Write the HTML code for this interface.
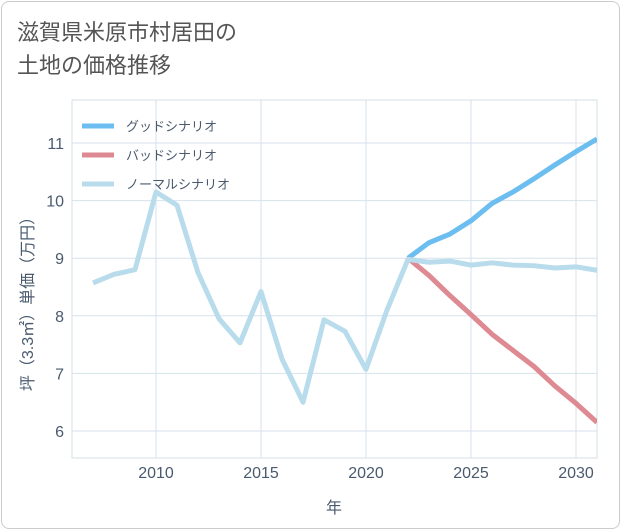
<!DOCTYPE html>
<html><head><meta charset="utf-8"><style>
body{margin:0;background:#fff;font-family:"Liberation Sans","Noto Sans CJK JP",sans-serif}
#card{position:absolute;left:1px;top:1px;width:617px;height:526px;border:1px solid #ccc;border-radius:8px;background:#fff}
#title{position:absolute;left:17px;top:16px;font-size:22px;line-height:33px;color:#555;font-family:"Liberation Sans","Noto Sans CJK JP",sans-serif}
</style></head><body>
<div id="card"></div>
<div id="title">滋賀県米原市村居田の<br>土地の価格推移</div>
<svg id="chart" width="621" height="530" style="position:absolute;left:0;top:0"></svg>
<script>
const years=[2007,2008,2009,2010,2011,2012,2013,2014,2015,2016,2017,2018,2019,2020,2021,2022,2023,2024,2025,2026,2027,2028,2029,2030,2031];
const normal=[8.57,8.72,8.8,10.15,9.92,8.75,7.95,7.53,8.42,7.25,6.5,7.93,7.73,7.07,8.1,8.98,8.93,8.95,8.88,8.92,8.88,8.87,8.83,8.85,8.79];
const fYears=[2022,2023,2024,2025,2026,2027,2028,2029,2030,2031];
const good=[9.0,9.27,9.42,9.65,9.95,10.15,10.38,10.62,10.85,11.07];
const bad=[9.0,8.7,8.35,8.02,7.68,7.4,7.12,6.78,6.48,6.15];
const xTicks=[2010,2015,2020,2025,2030];
const yTicks=[6,7,8,9,10,11];
const NS="http://www.w3.org/2000/svg";
const svg=document.getElementById('chart');
const L=72,R=597,T=100,B=458;
const x=v=>L+(v-2006)*(R-L)/25;
const y=v=>431-(v-6)*57.6;
function mk(t,a,p){const e=document.createElementNS(NS,t);for(const k in a)e.setAttribute(k,a[k]);(p||svg).appendChild(e);return e;}
mk('rect',{x:L,y:T,width:R-L,height:B-T,fill:'none',stroke:'#d6dfe6'});
xTicks.forEach(t=>{
const g=mk('line',{x1:x(t),x2:x(t),y1:T,y2:B,stroke:'#d6e2ec'});


const tx=mk('text',{x:x(t),y:478,'text-anchor':'middle','font-size':16,fill:'#4a5a6e'});tx.textContent=t;


});
yTicks.forEach(t=>{
const g=mk('line',{x1:L,x2:R,y1:y(t),y2:y(t),stroke:'#d6e2ec'});


const tx=mk('text',{x:64,y:y(t)+6,'text-anchor':'end','font-size':16,fill:'#4a5a6e'});tx.textContent=t;


});
const xt=mk('text',{x:334,y:513,'text-anchor':'middle','font-size':16,fill:'#4a5a6e'});xt.textContent='年';


const yt=mk('text',{x:0,y:0,'text-anchor':'middle','font-size':16,fill:'#4a5a6e',transform:'translate(33,300) rotate(-90)'});yt.textContent='坪（3.3㎡）単価（万円）';


const clip=mk('clipPath',{id:'c'});mk('rect',{x:L,y:T,width:R-L,height:B-T},clip);
function line(xs,vs,col,name){const p=mk('polyline',{points:xs.map((v,i)=>x(v)+','+y(vs[i])).join(' '),fill:'none',stroke:col,'stroke-width':5,'stroke-linejoin':'round','clip-path':'url(#c)'});

}
line(fYears,good,'#6cbdf0','good-scenario-line');
line(fYears,bad,'#de8a92','bad-scenario-line');
line(years,normal,'#b9dcec','normal-scenario-line');
const leg=[['グッドシナリオ','#6cbdf0'],['バッドシナリオ','#de8a92'],['ノーマルシナリオ','#b9dcec']];
leg.forEach((l,i)=>{const yy=126+i*29;
const s=mk('line',{x1:82,x2:114,y1:yy,y2:yy,stroke:l[1],'stroke-width':5});


const t=mk('text',{x:126,y:yy+5,'font-size':13,fill:'#4a5a6e'});t.textContent=l[0];

});
</script>
</body></html>
